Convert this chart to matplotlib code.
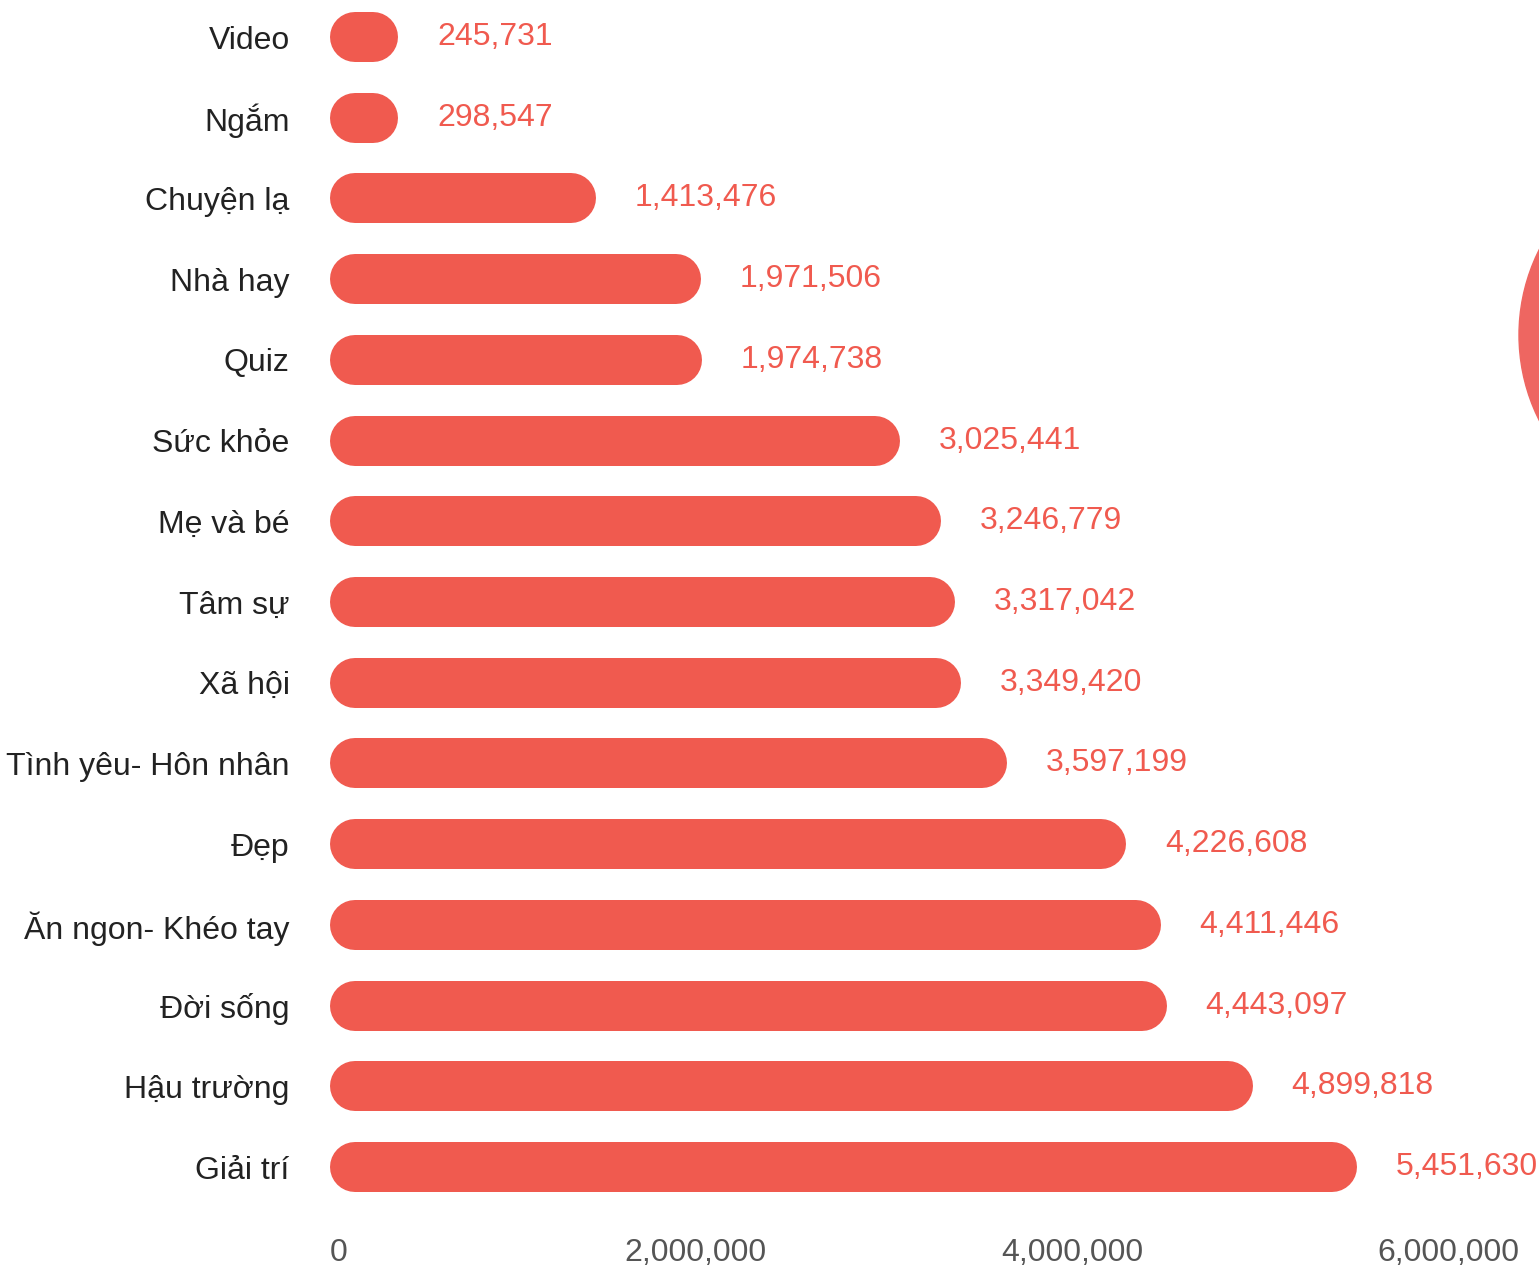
import matplotlib
matplotlib.use("Agg")
import matplotlib.pyplot as plt
from matplotlib.patches import Ellipse
from matplotlib.transforms import ScaledTranslation

plt.rcParams['font.family'] = ['Liberation Sans', 'DejaVu Sans']

categories = ["Video", "Ngắm", "Chuyện lạ", "Nhà hay", "Quiz", "Sức khỏe", "Mẹ và bé",
              "Tâm sự", "Xã hội", "Tình yêu- Hôn nhân", "Đẹp", "Ăn ngon- Khéo tay",
              "Đời sống", "Hậu trường", "Giải trí"]
values = [245731, 298547, 1413476, 1971506, 1974738, 3025441, 3246779,
          3317042, 3349420, 3597199, 4226608, 4411446, 4443097, 4899818, 5451630]
xticks = [0, 2000000, 4000000, 6000000]
xticklabels = ["0", "2,000,000", "4,000,000", "6,000,000"]

W, H = 1539, 1265
DPI = 100
BAR_RED = "#F05A4F"

fig = plt.figure(figsize=(W / DPI, H / DPI), dpi=DPI)
fig.patch.set_facecolor("white")

# axes geometry (pixels)
x0_px = 330
px_per_unit = 188.3 / 1e6
top_c, bot_c = 37, 1167
n = len(categories)
step = (bot_c - top_c) / (n - 1)
ax_top = top_c - step / 2
ax_bot = bot_c + step / 2
ax = fig.add_axes([x0_px / W, (H - ax_bot) / H, (W - x0_px) / W, (ax_bot - ax_top) / H])
ax.set_xlim(0, (W - x0_px) / px_per_unit)
ax.set_ylim(n - 0.5, -0.5)

r = 25 / px_per_unit  # cap radius in data units
min_len = 18 / px_per_unit  # shortest visible straight segment of a pill
bar_lw = 50 * 72 / DPI
for i, v in enumerate(values):
    end = max(v - r, r + min_len)
    ax.plot([r, end], [i, i], color=BAR_RED, lw=bar_lw, solid_capstyle="round")
    ax.annotate(f"{v:,}", xy=(end + r, i), xytext=(28, 0), textcoords="offset points",
                ha="left", va="center", fontsize=23, color=BAR_RED)

ax.set_yticks(range(n))
ax.set_yticklabels(categories, fontsize=23, color="#222222")
ax.tick_params(axis="y", length=0, pad=29)

ax.set_xticks(xticks)
ax.set_xticklabels(xticklabels, fontsize=23, color="#555555")
ax.tick_params(axis="x", length=0, pad=22)
for k, lab in enumerate(ax.get_xticklabels()):
    if k == 0:
        lab.set_ha("left")
    else:
        lab.set_transform(lab.get_transform() + ScaledTranslation(-11 / DPI, 0, fig.dpi_scale_trans))

for s in ax.spines.values():
    s.set_visible(False)
ax.set_facecolor("none")

# decorative circle at right edge
circ = Ellipse((1709 / W, (H - 335) / H), 380 / W, 380 / H, transform=fig.transFigure,
               color="#EE6661", zorder=0)
fig.add_artist(circ)

fig.savefig("out.png", dpi=DPI)
